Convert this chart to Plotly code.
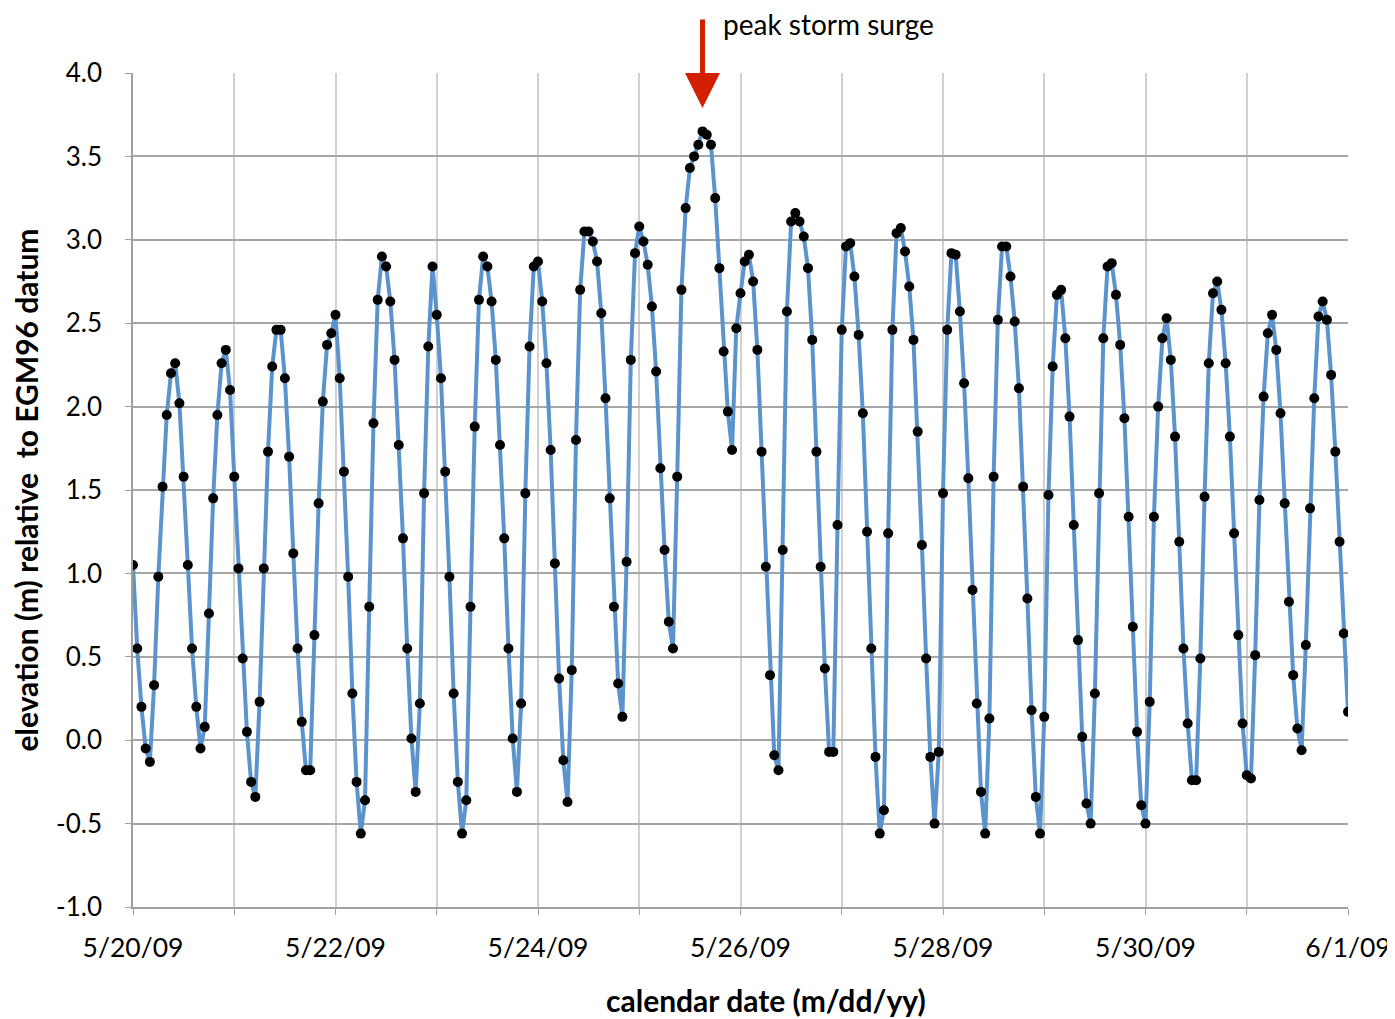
import pandas as pd
import plotly.graph_objects as go

# hourly elevations (m), one list per calendar day
day_0520 = [1.05, 0.55, 0.20, -0.05, -0.13, 0.33, 0.98, 1.52, 1.95, 2.20, 2.26, 2.02,
            1.58, 1.05, 0.55, 0.20, -0.05, 0.08, 0.76, 1.45, 1.95, 2.26, 2.34, 2.10]
day_0521 = [1.58, 1.03, 0.49, 0.05, -0.25, -0.34, 0.23, 1.03, 1.73, 2.24, 2.46, 2.46,
            2.17, 1.70, 1.12, 0.55, 0.11, -0.18, -0.18, 0.63, 1.42, 2.03, 2.37, 2.44]
day_0522 = [2.55, 2.17, 1.61, 0.98, 0.28, -0.25, -0.56, -0.36, 0.80, 1.90, 2.64, 2.90,
            2.84, 2.63, 2.28, 1.77, 1.21, 0.55, 0.01, -0.31, 0.22, 1.48, 2.36, 2.84]
day_0523 = [2.55, 2.17, 1.61, 0.98, 0.28, -0.25, -0.56, -0.36, 0.80, 1.88, 2.64, 2.90,
            2.84, 2.63, 2.28, 1.77, 1.21, 0.55, 0.01, -0.31, 0.22, 1.48, 2.36, 2.84]
day_0524 = [2.87, 2.63, 2.26, 1.74, 1.06, 0.37, -0.12, -0.37, 0.42, 1.80, 2.70, 3.05,
            3.05, 2.99, 2.87, 2.56, 2.05, 1.45, 0.80, 0.34, 0.14, 1.07, 2.28, 2.92]
day_0525 = [3.08, 2.99, 2.85, 2.60, 2.21, 1.63, 1.14, 0.71, 0.55, 1.58, 2.70, 3.19,
            3.43, 3.50, 3.57, 3.65, 3.63, 3.57, 3.25, 2.83, 2.33, 1.97, 1.74, 2.47]
day_0526 = [2.68, 2.87, 2.91, 2.75, 2.34, 1.73, 1.04, 0.39, -0.09, -0.18, 1.14, 2.57,
            3.11, 3.16, 3.11, 3.02, 2.83, 2.40, 1.73, 1.04, 0.43, -0.07, -0.07, 1.29]
day_0527 = [2.46, 2.96, 2.98, 2.78, 2.43, 1.96, 1.25, 0.55, -0.10, -0.56, -0.42, 1.24,
            2.46, 3.04, 3.07, 2.93, 2.72, 2.40, 1.85, 1.17, 0.49, -0.10, -0.50, -0.07]
day_0528 = [1.48, 2.46, 2.92, 2.91, 2.57, 2.14, 1.57, 0.90, 0.22, -0.31, -0.56, 0.13,
            1.58, 2.52, 2.96, 2.96, 2.78, 2.51, 2.11, 1.52, 0.85, 0.18, -0.34, -0.56]
day_0529 = [0.14, 1.47, 2.24, 2.67, 2.70, 2.41, 1.94, 1.29, 0.60, 0.02, -0.38, -0.50,
            0.28, 1.48, 2.41, 2.84, 2.86, 2.67, 2.37, 1.93, 1.34, 0.68, 0.05, -0.39]
day_0530 = [-0.50, 0.23, 1.34, 2.00, 2.41, 2.53, 2.28, 1.82, 1.19, 0.55, 0.10, -0.24,
            -0.24, 0.49, 1.46, 2.26, 2.68, 2.75, 2.58, 2.26, 1.82, 1.24, 0.63, 0.10]
day_0531 = [-0.21, -0.23, 0.51, 1.44, 2.06, 2.44, 2.55, 2.34, 1.96, 1.42, 0.83, 0.39,
            0.07, -0.06, 0.57, 1.39, 2.05, 2.54, 2.63, 2.52, 2.19, 1.73, 1.19, 0.64]
day_0601 = [0.17]

start_time = "2009-05-20 00:00"
x_range = ["2009-05-20", "2009-06-01"]
y_ticks = [4.0, 3.5, 3.0, 2.5, 2.0, 1.5, 1.0, 0.5, 0.0, -0.5, -1.0]
y_tick_text = ["4.0", "3.5", "3.0", "2.5", "2.0", "1.5", "1.0", "0.5", "0.0", "-0.5", "-1.0"]
peak_time = "2009-05-25 15:00"
peak_arrow_y = 3.79

elev = (day_0520 + day_0521 + day_0522 + day_0523 + day_0524 + day_0525 +
        day_0526 + day_0527 + day_0528 + day_0529 + day_0530 + day_0531 + day_0601)
times = pd.date_range(start_time, periods=len(elev), freq="h")

FONT = "Lato, Open Sans, sans-serif"

fig = go.Figure()
fig.add_trace(go.Scatter(
    x=times, y=elev, mode="lines+markers",
    line=dict(color="#5B93CD", width=4),
    marker=dict(color="black", size=10),
    showlegend=False,
))

fig.add_annotation(
    x=peak_time, y=peak_arrow_y, xref="x", yref="y",
    ax=0, ay=-90, axref="pixel", ayref="pixel",
    showarrow=True, arrowhead=2, arrowsize=1.4, arrowwidth=5,
    arrowcolor="#D02000", text="",
)
fig.add_annotation(
    x=0.4848, y=1.059, xref="paper", yref="paper",
    text="peak storm surge", showarrow=False,
    xanchor="left", yanchor="middle", borderpad=0,
    font=dict(family=FONT, size=28, color="black"),
)
fig.add_annotation(
    x=0.521, y=-0.1115, xref="paper", yref="paper",
    text="<b>calendar date (m/dd/yy)</b>", showarrow=False,
    xanchor="center", yanchor="middle",
    font=dict(family=FONT, size=30, color="black"),
)

# page body adds an 8px offset, so the figure is slightly smaller than the window
fig.update_layout(
    width=1387, height=1011,
    margin=dict(l=125, r=47, t=65, b=112),
    plot_bgcolor="white", paper_bgcolor="white",
    font=dict(family=FONT, size=26, color="black"),
)
fig.update_xaxes(
    type="date", range=x_range, automargin=False,
    dtick=2 * 86400000, tick0="2009-05-20",
    tickformat="%-m/%-d/%y",
    showgrid=True, gridcolor="#D0D0D0", gridwidth=1.5,
    minor=dict(dtick=86400000, showgrid=True, gridcolor="#D0D0D0", gridwidth=1.5,
               ticks="outside", ticklen=6, tickcolor="#A0A0A0"),
    ticks="outside", ticklen=6, tickcolor="#A0A0A0",
    showline=True, linecolor="#A0A0A0", linewidth=1.5,
    zeroline=False,
    tickfont=dict(family=FONT, size=26.5),
    ticklabelstandoff=10,
)
fig.update_yaxes(
    range=[-1.0, 4.0], tickvals=y_ticks, ticktext=y_tick_text, automargin=False,
    showgrid=True, gridcolor="#A6A6A6", gridwidth=1.5,
    ticks="outside", ticklen=6, tickcolor="#A0A0A0",
    showline=True, linecolor="#A0A0A0", linewidth=1.5,
    zeroline=False,
    tickfont=dict(family=FONT, size=26),
    ticklabelstandoff=18,
    title=dict(text="<b>elevation (m) relative  to EGM96 datum</b>", standoff=14,
               font=dict(family=FONT, size=30)),
)

fig.write_html("out.html")
